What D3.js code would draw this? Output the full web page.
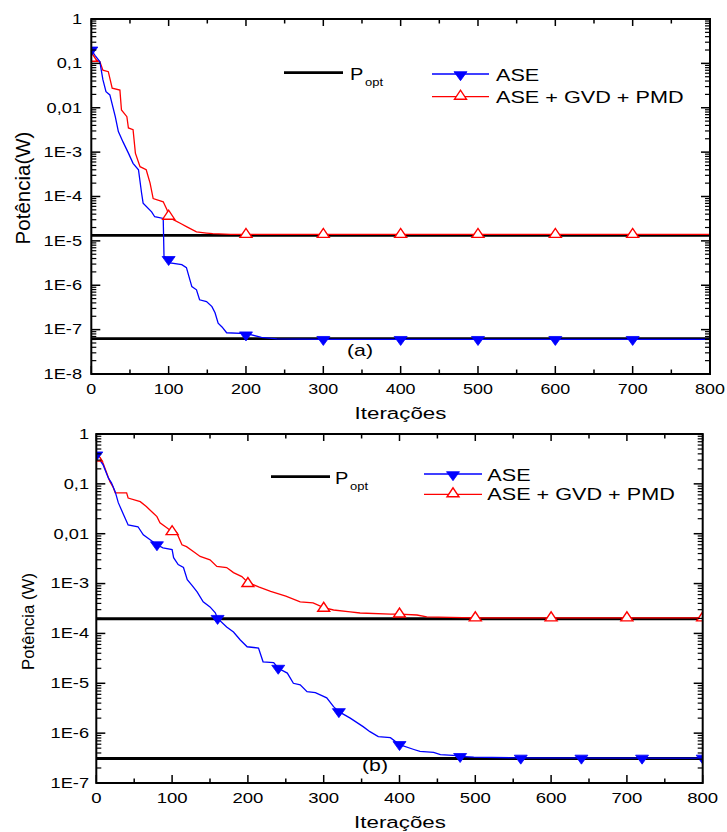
<!DOCTYPE html>
<html><head><meta charset="utf-8">
<script src="https://cdn.jsdelivr.net/npm/d3@7"></script>
<style>
body{margin:0;background:#fff}
svg{display:block}
text{font-family:"Liberation Sans",Arial,Helvetica,sans-serif;fill:#000}
</style>
</head><body>
<svg id="c" width="727" height="832"></svg>
<script>
// ---------- data ----------
const xTickValues = [0,100,200,300,400,500,600,700,800];
const xTickLabels = ["0","100","200","300","400","500","600","700","800"];
const topYTicks = [1,1e-1,1e-2,1e-3,1e-4,1e-5,1e-6,1e-7,1e-8];
const topYLabels = ["1","0,1","0,01","1E-3","1E-4","1E-5","1E-6","1E-7","1E-8"];
const botYTicks = [1,1e-1,1e-2,1e-3,1e-4,1e-5,1e-6,1e-7];
const botYLabels = ["1","0,1","0,01","1E-3","1E-4","1E-5","1E-6","1E-7"];

// panel (a)
const topPopt = [1.33e-5, 6.3e-8];
const topASE = [[0,0.2],[5,0.15],[11,0.11],[15,0.043],[19,0.023],[24,0.0195],[31,0.0063],[35,0.0029],[41,0.0017],[48,9.5e-4],[54,5.6e-4],[61,4.0e-4],[65,1.2e-4],[67,7.1e-5],[78,4.5e-5],[82,3.5e-5],[93,3.2e-5],[94,4.5e-6],[100,3.8e-6],[102,3.2e-6],[117,2.9e-6],[123,2.5e-6],[130,9.3e-7],[136,7.9e-7],[140,4.7e-7],[149,4.3e-7],[156,3.3e-7],[160,2.4e-7],[164,1.4e-7],[169,1.15e-7],[175,8.5e-8],[201,8.1e-8],[220,6.7e-8],[240,6.2e-8],[300,6.0e-8],[800,6.0e-8]];
const topGVD = [[0,0.15],[5,0.12],[11,0.11],[15,0.07],[22,0.065],[27,0.0275],[37,0.025],[39,0.0089],[46,0.0063],[48,0.0035],[54,0.0032],[57,9.5e-4],[63,4.7e-4],[71,4.0e-4],[76,2.0e-4],[80,9e-5],[93,7.6e-5],[98,5e-5],[100,3.6e-5],[106,3.0e-5],[115,2.5e-5],[123,2.1e-5],[136,1.6e-5],[149,1.5e-5],[157,1.45e-5],[180,1.4e-5],[800,1.4e-5]];
const topASEMarkers = [[0,0.2],[100,3.8e-6],[200,7.6e-8],[300,6.0e-8],[400,6.0e-8],[500,6.0e-8],[600,6.0e-8],[700,6.0e-8]];
const topGVDMarkers = [[0,0.13],[100,3.6e-5],[200,1.4e-5],[300,1.4e-5],[400,1.4e-5],[500,1.4e-5],[600,1.4e-5],[700,1.4e-5]];

// panel (b)
const botPopt = [1.97e-4, 3.1e-7];
const botASE = [[0,0.38],[9,0.24],[16,0.13],[20,0.105],[25,0.069],[29,0.042],[36,0.024],[42,0.015],[55,0.0138],[62,0.0095],[71,0.0076],[80,0.006],[88,0.0052],[100,0.0048],[102,0.0033],[108,0.0024],[115,0.0021],[120,0.0012],[126,9.3e-4],[133,6.8e-4],[141,4.3e-4],[150,3.4e-4],[157,2.6e-4],[160,2.0e-4],[172,1.35e-4],[181,1.07e-4],[190,7.4e-5],[199,5.4e-5],[214,5.1e-5],[220,2.7e-5],[234,2.6e-5],[240,2.0e-5],[252,1.6e-5],[260,1.0e-5],[269,9.3e-6],[278,6.8e-6],[289,6.5e-6],[304,5.1e-6],[313,3.4e-6],[320,2.7e-6],[335,2.0e-6],[352,1.35e-6],[361,1.07e-6],[372,8.5e-7],[388,8.1e-7],[400,5.9e-7],[419,4.7e-7],[427,4.3e-7],[445,4.1e-7],[454,3.7e-7],[476,3.55e-7],[480,3.4e-7],[498,3.3e-7],[550,3.2e-7],[800,3.15e-7]];
const botGVD = [[0,0.42],[5,0.33],[9,0.26],[18,0.11],[22,0.087],[25,0.066],[40,0.066],[42,0.052],[58,0.044],[66,0.035],[75,0.026],[80,0.022],[84,0.0166],[93,0.0132],[100,0.011],[106,0.0105],[113,0.006],[119,0.0055],[128,0.0044],[137,0.0035],[150,0.003],[159,0.0022],[172,0.0021],[181,0.00166],[192,0.00138],[200,0.00105],[215,8.5e-4],[230,7.0e-4],[250,5.6e-4],[269,4.3e-4],[286,4.1e-4],[300,3.3e-4],[313,2.95e-4],[335,2.7e-4],[348,2.57e-4],[388,2.45e-4],[400,2.45e-4],[423,2.34e-4],[436,2.14e-4],[467,2.1e-4],[500,2.05e-4],[800,2.05e-4]];
const botASEMarkers = [[0,0.38],[80,0.006],[160,2.0e-4],[240,2.0e-5],[320,2.7e-6],[400,5.9e-7],[480,3.4e-7],[560,3.15e-7],[640,3.15e-7],[720,3.15e-7],[800,3.15e-7]];
const botGVDMarkers = [[0,0.33],[100,0.011],[200,1.0e-3],[300,3.2e-4],[400,2.45e-4],[500,2.05e-4],[600,2.05e-4],[700,2.05e-4],[800,2.05e-4]];

const legendNames = ["ASE","ASE + GVD + PMD"];
const poptMain = "P", poptSub = "opt";

// ---------- drawing ----------
const svg = d3.select("#c");
const BLUE = "#0000ff", RED = "#ff0000";
const SX = 1.33;

function txt(g, x, y, s, size, anchor, sx){
  return g.append("text")
    .attr("transform", `translate(${x},${y}) scale(${sx},1)`)
    .attr("text-anchor", anchor).attr("font-size", size).text(s);
}
function downTri(w,h){return `M${-w/2},${-h/3}L${w/2},${-h/3}L0,${2*h/3}Z`;}
function upTri(w,h){return `M${-w/2},${h/3}L${w/2},${h/3}L0,${-2*h/3}Z`;}

function panel(cfg){
  const g = svg.append("g");
  const x = d3.scaleLinear().domain([0,800]).range([cfg.x0,cfg.x1]);
  const y = d3.scaleLog().domain([cfg.yMin,1]).range([cfg.y1,cfg.y0]);
  const id = "clip"+cfg.id;
  svg.append("clipPath").attr("id",id).append("rect")
    .attr("x",cfg.x0).attr("y",cfg.y0).attr("width",cfg.x1-cfg.x0).attr("height",cfg.y1-cfg.y0);
  const pg = g.append("g").attr("clip-path",`url(#${id})`);

  // Popt lines
  cfg.popt.forEach(v=>{
    pg.append("line").attr("x1",cfg.x0).attr("x2",cfg.x1).attr("y1",y(v)).attr("y2",y(v))
      .attr("stroke","#000").attr("stroke-width",2.8);
  });
  const line = d3.line().x(d=>x(d[0])).y(d=>y(d[1]));
  pg.append("path").datum(cfg.gvd).attr("d",line).attr("fill","none").attr("stroke",RED).attr("stroke-width",1.3);
  pg.append("path").datum(cfg.ase).attr("d",line).attr("fill","none").attr("stroke",BLUE).attr("stroke-width",1.3);
  pg.selectAll(".mg").data(cfg.gvdM).enter().append("path")
    .attr("transform",d=>`translate(${x(d[0])},${y(d[1])})`).attr("d",upTri(12,9))
    .attr("fill","#fff").attr("stroke",RED).attr("stroke-width",1.4);
  pg.selectAll(".ma").data(cfg.aseM).enter().append("path")
    .attr("transform",d=>`translate(${x(d[0])},${y(d[1])})`).attr("d",downTri(13,9))
    .attr("fill",BLUE).attr("stroke",BLUE).attr("stroke-width",0.8);

  // frame & ticks
  const ax = g.append("g").attr("stroke","#000");
  ax.append("rect").attr("x",cfg.x0).attr("y",cfg.y0).attr("width",cfg.x1-cfg.x0).attr("height",cfg.y1-cfg.y0)
    .attr("fill","none").attr("stroke-width",2);
  const xMinor = d3.range(50,800,100);
  xTickValues.forEach(v=>{
    ax.append("line").attr("x1",x(v)).attr("x2",x(v)).attr("y1",cfg.y1).attr("y2",cfg.y1-8).attr("stroke-width",1.5);
    ax.append("line").attr("x1",x(v)).attr("x2",x(v)).attr("y1",cfg.y0).attr("y2",cfg.y0+7).attr("stroke-width",1.5);
  });
  xMinor.forEach(v=>{
    ax.append("line").attr("x1",x(v)).attr("x2",x(v)).attr("y1",cfg.y1).attr("y2",cfg.y1-4.5).attr("stroke-width",1.5);
    ax.append("line").attr("x1",x(v)).attr("x2",x(v)).attr("y1",cfg.y0).attr("y2",cfg.y0+4.5).attr("stroke-width",1.5);
  });
  cfg.yTicks.forEach(v=>{
    ax.append("line").attr("x1",cfg.x0).attr("x2",cfg.x0+9).attr("y1",y(v)).attr("y2",y(v)).attr("stroke-width",1.5);
    ax.append("line").attr("x1",cfg.x1).attr("x2",cfg.x1-9).attr("y1",y(v)).attr("y2",y(v)).attr("stroke-width",1.5);
  });
  cfg.yTicks.slice(1).forEach(d=>{
    for(let k=2;k<=9;k++){
      const v=d*k;
      ax.append("line").attr("x1",cfg.x0).attr("x2",cfg.x0+5).attr("y1",y(v)).attr("y2",y(v)).attr("stroke-width",1.2);
      ax.append("line").attr("x1",cfg.x1).attr("x2",cfg.x1-5).attr("y1",y(v)).attr("y2",y(v)).attr("stroke-width",1.2);
    }
  });

  // tick labels
  xTickValues.forEach((v,i)=>txt(g,x(v),cfg.xLabelY,xTickLabels[i],cfg.xTickSize,"middle",1.28));
  cfg.yTicks.forEach((v,i)=>txt(g,cfg.yLabelX,y(v)+4.8,cfg.yLabels[i],14,"end",1.3));

  // axis titles
  txt(g,cfg.xTitleX,cfg.xTitleY,"Iterações",16.3,"middle",1.37);
  g.append("text").attr("transform",`translate(${cfg.yTitleX},${cfg.yTitleY}) rotate(-90)`)
    .attr("text-anchor","middle").attr("font-size",cfg.yTitleSize).text(cfg.yTitle);
  txt(g,cfg.tagX,cfg.tagY,cfg.tag,16,"middle",1.33);

  // legend
  const L = cfg.leg;
  g.append("line").attr("x1",L.px0).attr("x2",L.px1).attr("y1",L.py).attr("y2",L.py).attr("stroke","#000").attr("stroke-width",2.8);
  txt(g,L.pTextX,L.pTextY,poptMain,15.8,"start",1.27);
  txt(g,L.pTextX+15,L.pTextY+6,poptSub,10,"start",1.3);
  g.append("line").attr("x1",L.lx0).attr("x2",L.lx1).attr("y1",L.ay).attr("y2",L.ay).attr("stroke",BLUE).attr("stroke-width",1.3);
  g.append("path").attr("transform",`translate(${(L.lx0+L.lx1)/2},${L.ay+0.7})`).attr("d",downTri(13,9))
    .attr("fill",BLUE).attr("stroke",BLUE).attr("stroke-width",0.8);
  txt(g,L.tx,L.ay+6.5,legendNames[0],15.8,"start",1.37);
  g.append("line").attr("x1",L.lx0).attr("x2",L.lx1).attr("y1",L.ry).attr("y2",L.ry).attr("stroke",RED).attr("stroke-width",1.3);
  g.append("path").attr("transform",`translate(${(L.lx0+L.lx1)/2},${L.ry-0.5})`).attr("d",upTri(12,9))
    .attr("fill","#fff").attr("stroke",RED).attr("stroke-width",1.4);
  txt(g,L.tx,L.ry+6,legendNames[1],15.8,"start",1.37);
}

panel({id:"a",x0:91.3,x1:710,y0:19,y1:374,yMin:1e-8,yTicks:topYTicks,yLabels:topYLabels,
  popt:topPopt,ase:topASE,gvd:topGVD,aseM:topASEMarkers,gvdM:topGVDMarkers,
  xLabelY:393.5,xTickSize:14,yLabelX:82,xTitleX:400.5,xTitleY:419,
  yTitle:"Potência(W)",yTitleX:29.5,yTitleY:188,yTitleSize:20.5,tag:"(a)",tagX:360,tagY:356,
  leg:{px0:284,px1:343,py:72.7,pTextX:350,pTextY:80,lx0:432,lx1:489,ay:74,ry:96.7,tx:496}});

panel({id:"b",x0:96.3,x1:702.7,y0:434,y1:783,yMin:1e-7,yTicks:botYTicks,yLabels:botYLabels,
  popt:botPopt,ase:botASE,gvd:botGVD,aseM:botASEMarkers,gvdM:botGVDMarkers,
  xLabelY:802.5,xTickSize:14.5,yLabelX:89,xTitleX:400,xTitleY:828,
  yTitle:"Potência (W)",yTitleX:34,yTitleY:621.5,yTitleSize:16.8,tag:"(b)",tagX:375,tagY:771,
  leg:{px0:271,px1:330,py:476.7,pTextX:335,pTextY:484,lx0:424,lx1:482,ay:474,ry:494.3,tx:487.3}});
</script>
</body></html>
